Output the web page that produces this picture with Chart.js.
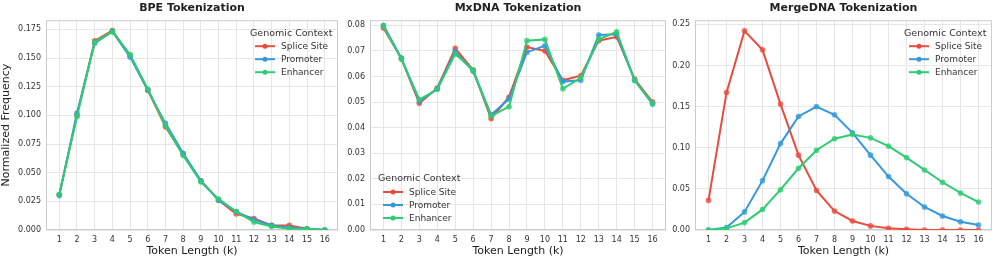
<!DOCTYPE html>
<html>
<head>
<meta charset="utf-8">
<script src="https://cdn.jsdelivr.net/npm/chart.js@4.4.1/dist/chart.umd.min.js"></script>
<style>
  html, body { margin: 0; padding: 0; background: #fff; }
  body { width: 996px; height: 263px; position: relative; overflow: hidden; }
  canvas { position: absolute; top: 0; }
</style>
</head>
<body>
<canvas id="bpe" style="left:0px"></canvas>
<canvas id="mx" style="left:336px"></canvas>
<canvas id="merge" style="left:664px"></canvas>
<script>
const tokenLengths = [1, 2, 3, 4, 5, 6, 7, 8, 9, 10, 11, 12, 13, 14, 15, 16];
const contexts = ['Splice Site', 'Promoter', 'Enhancer'];
const colors = ['#E74C3C', '#3498DB', '#2ECC71'];

// BPE
const bpeSplice   = [0.031, 0.100, 0.165, 0.174, 0.152, 0.122, 0.090, 0.066, 0.043, 0.026, 0.014, 0.010, 0.004, 0.004, 0.001, 0.000];
const bpePromoter = [0.030, 0.102, 0.163, 0.173, 0.151, 0.122, 0.093, 0.067, 0.043, 0.026, 0.016, 0.009, 0.004, 0.002, 0.001, 0.000];
const bpeEnhancer = [0.031, 0.099, 0.164, 0.173, 0.153, 0.123, 0.091, 0.065, 0.042, 0.027, 0.016, 0.007, 0.003, 0.001, 0.001, 0.000];

// MxDNA
const mxSplice   = [0.0790, 0.0670, 0.0495, 0.0555, 0.0710, 0.0625, 0.0435, 0.0520, 0.0715, 0.0700, 0.0585, 0.0603, 0.0740, 0.0755, 0.0590, 0.0500];
const mxPromoter = [0.0800, 0.0672, 0.0502, 0.0552, 0.0698, 0.0620, 0.0450, 0.0512, 0.0695, 0.0720, 0.0580, 0.0585, 0.0762, 0.0765, 0.0585, 0.0492];
const mxEnhancer = [0.0796, 0.0668, 0.0510, 0.0550, 0.0688, 0.0625, 0.0445, 0.0482, 0.0740, 0.0745, 0.0552, 0.0595, 0.0745, 0.0775, 0.0585, 0.0495];

// MergeDNA
const mgSplice   = [0.036, 0.167, 0.242, 0.219, 0.153, 0.091, 0.048, 0.023, 0.011, 0.005, 0.002, 0.001, 0.000, 0.000, 0.000, 0.000];
const mgPromoter = [0.000, 0.003, 0.022, 0.060, 0.105, 0.138, 0.150, 0.140, 0.118, 0.091, 0.065, 0.044, 0.028, 0.017, 0.010, 0.006];
const mgEnhancer = [0.000, 0.002, 0.009, 0.025, 0.049, 0.075, 0.097, 0.111, 0.116, 0.112, 0.102, 0.088, 0.073, 0.058, 0.045, 0.034];

const bpeTicks = [0, 0.025, 0.05, 0.075, 0.1, 0.125, 0.15, 0.175];
const mxTicks = [0, 0.01, 0.02, 0.03, 0.04, 0.05, 0.06, 0.07, 0.08];
const mgTicks = [0, 0.05, 0.1, 0.15, 0.2, 0.25];

const FONT = "'DejaVu Sans', sans-serif";

// frame round the plot area + legend drawn inside the plot
const framePlugin = {
  id: 'frame',
  beforeDatasetsDraw(chart) {
    const a = chart.chartArea, ctx = chart.ctx;
    ctx.save();
    ctx.strokeStyle = '#cccccc';
    ctx.lineWidth = 1;
    ctx.strokeRect(a.left + 0.5, a.top + 0.5, a.right - a.left - 1, a.bottom - a.top - 1);
    ctx.restore();
  },
  afterDraw(chart, args, opts) {
    const a = chart.chartArea, ctx = chart.ctx;
    const rowH = 13;
    let x0, y0;
    if (opts.corner === 'bottomleft') {
      x0 = a.left + 8;
      y0 = a.bottom - 51;
    } else {
      x0 = a.right - 88;
      y0 = a.top + 13;
    }
    ctx.save();
    ctx.fillStyle = '#333';
    ctx.textBaseline = 'middle';
    ctx.font = '9.5px ' + FONT;
    ctx.fillText('Genomic Context', x0, y0);
    ctx.font = '9px ' + FONT;
    chart.data.datasets.forEach((ds, i) => {
      const y = y0 + rowH * (i + 1);
      const lx = x0 + 5;
      ctx.strokeStyle = ds.borderColor;
      ctx.lineWidth = 2;
      ctx.beginPath();
      ctx.moveTo(lx, y);
      ctx.lineTo(lx + 20, y);
      ctx.stroke();
      ctx.fillStyle = ds.borderColor;
      ctx.beginPath();
      ctx.arc(lx + 10, y, 2.5, 0, Math.PI * 2);
      ctx.fill();
      ctx.fillStyle = '#333';
      ctx.fillText(ds.label, lx + 26, y + 0.5);
    });
    ctx.restore();
  }
};

function makeChart(id, width, yWidth, padRight, title, series, ticks, yMax, decimals, showYTitle, corner) {
  const ctx = document.getElementById(id).getContext('2d');
  ctx.canvas.width = width;
  ctx.canvas.height = 263;
  ctx.canvas.style.width = width + 'px';
  ctx.canvas.style.height = '263px';

  const datasets = series.map((vals, i) => ({
    label: contexts[i],
    data: tokenLengths.map((k, j) => ({ x: k, y: vals[j] })),
    borderColor: colors[i],
    backgroundColor: colors[i],
    pointBackgroundColor: colors[i] + 'cc',
    pointBorderColor: colors[i] + 'cc',
    borderWidth: 2,
    pointRadius: 2.8,
    pointBorderWidth: 0,
    tension: 0,
    order: 3 - i
  }));

  return new Chart(ctx, {
    type: 'line',
    data: { datasets: datasets },
    options: {
      responsive: false,
      animation: false,
      layout: { padding: { top: 0, right: padRight, bottom: 5, left: 0 } },
      plugins: {
        legend: { display: false },
        tooltip: { enabled: false },
        title: {
          display: true,
          text: title,
          fullSize: false,
          color: '#222',
          font: { family: FONT, size: 11, weight: 'bold' },
          padding: { top: 2, bottom: 5 }
        },
        frame: { corner: corner }
      },
      scales: {
        x: {
          type: 'linear',
          min: 0.25,
          max: 16.75,
          afterBuildTicks: (scale) => { scale.ticks = tokenLengths.map(v => ({ value: v })); },
          afterFit: (scale) => { scale.height = 28; },
          grid: { color: '#e6e6e6', borderDash: [2, 1], drawTicks: true, tickLength: 3, tickColor: '#ffffff' },
          border: { display: false },
          ticks: { color: '#333', font: { family: FONT, size: 8 }, padding: 2, maxRotation: 0, autoSkip: false },
          title: { display: true, text: 'Token Length (k)', color: '#222', font: { family: FONT, size: 11 }, padding: { top: 2, bottom: 0 } }
        },
        y: {
          min: 0,
          max: yMax,
          afterBuildTicks: (scale) => { scale.ticks = ticks.map(v => ({ value: v })); },
          afterFit: (scale) => { scale.width = yWidth; },
          grid: { color: '#e6e6e6', borderDash: [2, 1], tickLength: 3, tickColor: '#ffffff' },
          border: { display: false },
          ticks: {
            color: '#333',
            font: { family: FONT, size: 8 },
            padding: 2,
            callback: (v) => Number(v).toFixed(decimals)
          },
          title: { display: showYTitle, text: 'Normalized Frequency', color: '#222', font: { family: FONT, size: 11 }, padding: { top: 0, bottom: 2 } }
        }
      }
    },
    plugins: [framePlugin]
  });
}

makeChart('bpe', 342, 46, 2, 'BPE Tokenization', [bpeSplice, bpePromoter, bpeEnhancer], bpeTicks, 0.183, 3, true, 'topright');
makeChart('mx', 334, 34, 2, 'MxDNA Tokenization', [mxSplice, mxPromoter, mxEnhancer], mxTicks, 0.082, 2, false, 'bottomleft');
makeChart('merge', 332, 31, 4, 'MergeDNA Tokenization', [mgSplice, mgPromoter, mgEnhancer], mgTicks, 0.255, 2, false, 'topright');
</script>
</body>
</html>
